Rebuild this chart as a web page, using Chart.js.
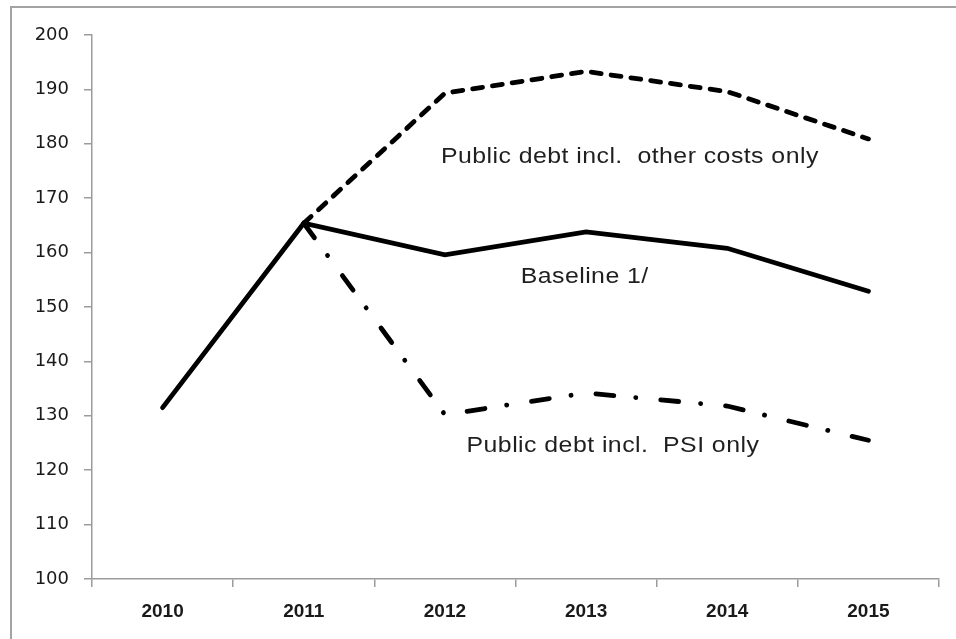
<!DOCTYPE html>
<html>
<head>
<meta charset="utf-8">
<script src="https://cdn.jsdelivr.net/npm/chart.js@4"></script>
<style>
  html, body { margin: 0; padding: 0; background: #fff; overflow: hidden; }
  #frame {
    position: absolute; left: 10px; top: 6px;
    width: 1000px; height: 700px;
    border: 2px solid #a3a3a3;
  }
  #wrap { position: absolute; left: 0; top: 0; width: 956px; height: 639px; }
</style>
</head>
<body>
<div id="frame"></div>
<div id="wrap"><canvas id="debtChart" width="956" height="639"></canvas></div>
<script>
// Data
const years = ["2010", "2011", "2012", "2013", "2014", "2015"];
const baseline = [131.5, 165.4, 159.6, 163.8, 160.8, 152.9];
const otherCosts = [null, 165.4, 189.3, 193.3, 189.6, 180.9];
const psiOnly = [null, 165.4, 130.2, 134.2, 131.8, 125.5];

const yMin = 100;
const yMax = 200;
const yStep = 10;

// Text labels next to the lines (category index, y value)
const labelTexts = ["Public debt incl.  other costs only", "Baseline 1/", "Public debt incl.  PSI only"];
const labelX = [3.31, 2.99, 3.19];
const labelY = [177.6, 155.5, 124.4];

// draws the labels inside the plot area, a bit stretched like the original
const lineLabels = {
  id: "lineLabels",
  afterDatasetsDraw(chart) {
    const ctx = chart.ctx;
    const xs = chart.scales.x;
    const ys = chart.scales.y;
    for (let i = 0; i < labelTexts.length; i++) {
      ctx.save();
      ctx.translate(xs.getPixelForValue(labelX[i]), ys.getPixelForValue(labelY[i]));
      ctx.scale(1.13, 1);
      ctx.font = "22px 'Liberation Sans', Arial, sans-serif";
      ctx.letterSpacing = "0.4px";
      ctx.fillStyle = "#1f1f1f";
      ctx.textAlign = "center";
      ctx.textBaseline = "middle";
      ctx.fillText(labelTexts[i], 0, 0);
      ctx.restore();
    }
  }
};

const ctx = document.getElementById("debtChart").getContext("2d");

new Chart(ctx, {
  type: "line",
  data: {
    labels: years,
    datasets: [
      {
        label: "Baseline 1/",
        data: baseline,
        borderColor: "#000",
        borderWidth: 4.8,
        borderCapStyle: "round",
        borderJoinStyle: "miter"
      },
      {
        label: "Public debt incl. other costs only",
        data: otherCosts,
        borderColor: "#000",
        borderWidth: 4.8,
        borderDash: [10, 10],
        borderCapStyle: "round"
      },
      {
        label: "Public debt incl. PSI only",
        data: psiOnly,
        borderColor: "#000",
        borderWidth: 4.8,
        borderDash: [18, 22, 0.1, 25],
        borderCapStyle: "round"
      }
    ]
  },
  options: {
    responsive: false,
    animation: false,
    spanGaps: false,
    elements: {
      point: { radius: 0, hoverRadius: 0 },
      line: { tension: 0, fill: false }
    },
    layout: { padding: { left: 0, top: 35, right: 17, bottom: 0 } },
    plugins: {
      legend: { display: false },
      tooltip: { enabled: false }
    },
    scales: {
      x: {
        offset: true,
        grid: {
          offset: true,
          drawOnChartArea: false,
          drawTicks: true,
          tickLength: 8,
          color: "#9c9c9c",
          lineWidth: 1.5
        },
        border: { color: "#9c9c9c", width: 1.5 },
        ticks: {
          padding: 13,
          color: "#1a1a1a",
          font: { family: "'Liberation Sans', Arial, sans-serif", size: 19, weight: "bold" }
        },
        afterFit(scale) { scale.height = 60; }
      },
      y: {
        min: yMin,
        max: yMax,
        grid: {
          drawOnChartArea: false,
          drawTicks: true,
          tickLength: 8,
          color: "#9c9c9c",
          lineWidth: 1.5
        },
        border: { color: "#9c9c9c", width: 1.5 },
        ticks: {
          stepSize: yStep,
          padding: 15,
          color: "#1a1a1a",
          font: { family: "'DejaVu Sans', Verdana, sans-serif", size: 18 }
        },
        afterFit(scale) { scale.width = 92; }
      }
    }
  },
  plugins: [lineLabels]
});
</script>
</body>
</html>
